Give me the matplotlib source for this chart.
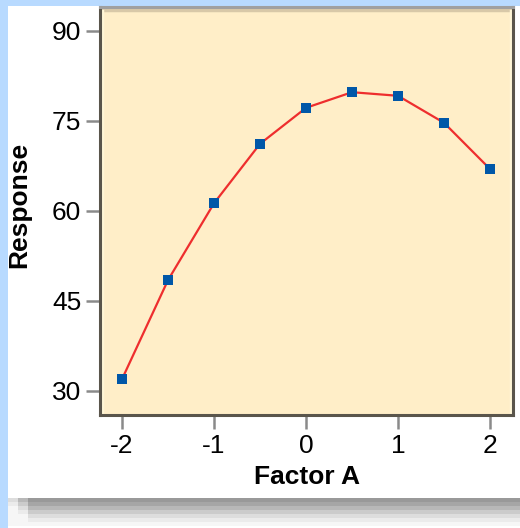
import numpy as np
import matplotlib
matplotlib.use("Agg")
import matplotlib.pyplot as plt
from matplotlib.patches import Rectangle
from matplotlib.lines import Line2D

#### data
factor_a = [-2, -1.5, -1, -0.5, 0, 0.5, 1, 1.5, 2]
response = [32, 48.5, 61.3, 71.2, 77.2, 79.8, 79.2, 74.7, 67]
x_ticks = [-2, -1, 0, 1, 2]
y_ticks = [30, 45, 60, 75, 90]

W, H = 520, 528
fig = plt.figure(figsize=(W / 100, H / 100), dpi=100, facecolor="white")

def px(x0, y0, w, h):
    # pixel box (top-left origin) -> figure fraction
    return (x0 / W, 1 - (y0 + h) / H, w / W, h / H)

def box_patch(x0, y0, w, h, color):
    b = px(x0, y0, w, h)
    fig.add_artist(Rectangle(b[:2], b[2], b[3], transform=fig.transFigure,
                             facecolor=color, edgecolor="none", zorder=0))

#### light blue page edges
box_patch(0, 0, 8, H, "#B8DAFF")
box_patch(0, 0, W, 6, "#B8DAFF")

#### drop shadow at the bottom of the panel
shades = ["#999999", "#A6A6A6", "#B8B8B8", "#CBCBCB", "#DDDDDD", "#EBEBEB", "#F6F6F6"]
for i, c in enumerate(shades):
    box_patch(28, 498 + 4 * i, W, 4, c)
    # soft left end of the shadow
    box_patch(18, 498 + 4 * i, 10, 4, shades[min(i + 2, 6)])
    box_patch(8, 498 + 4 * i, 10, 4, shades[min(i + 4, 6)])

#### plot area
left, right, top, bottom = 100, 513, 7, 415
ax = fig.add_axes([left / W, 1 - bottom / H, (right - left) / W, (bottom - top) / H])
ax.set_facecolor("#FFEEC8")

ax.plot(factor_a, response, color="#EE2E2E", lw=1.6, zorder=3)
ax.plot(factor_a, response, ls="none", marker="s", ms=7, color="#0057A8",
        markeredgewidth=0, zorder=4)

ax.set_xlim(-2.24, 2.25)
ax.set_ylim(26, 94)
ax.set_xticks(x_ticks)
ax.set_yticks(y_ticks)
ax.set_xticklabels([str(v) for v in x_ticks])
ax.set_yticklabels([str(v) for v in y_ticks])

for lab in ax.get_xticklabels() + ax.get_yticklabels():
    lab.set_fontfamily("Liberation Sans")
    lab.set_fontsize(19)
ax.tick_params(axis="both", direction="out", length=10, width=1.8, color="#8A8A8A")
ax.tick_params(axis="x", pad=4)
ax.tick_params(axis="y", pad=3.5)

for s in ["left", "bottom", "right"]:
    ax.spines[s].set_color("#5A554B")
    ax.spines[s].set_linewidth(2.2)
ax.spines["top"].set_color("#A0A0A0")
ax.spines["top"].set_linewidth(2.2)
# tan strip under the top border and light inner edges
ax.add_line(Line2D([0, 1], [0.992, 0.992], transform=ax.transAxes,
                   color="#D8C8A8", lw=2.5, zorder=2))
ax.add_line(Line2D([0.006, 0.006], [0, 0.99], transform=ax.transAxes,
                   color="#FFF6D6", lw=2.5, zorder=2))
ax.add_line(Line2D([0.994, 0.994], [0, 0.99], transform=ax.transAxes,
                   color="#FFF6D6", lw=2.5, zorder=2))

ax.set_xlabel("Factor A", family="Liberation Sans", fontsize=19,
              fontweight="bold", labelpad=5)
fig.text(19 / W, 1 - 205 / H, "Response", rotation=90, ha="center", va="center",
         family="Liberation Sans", fontsize=19, fontweight="bold")

fig.savefig("out.png", dpi=100, facecolor="white")
